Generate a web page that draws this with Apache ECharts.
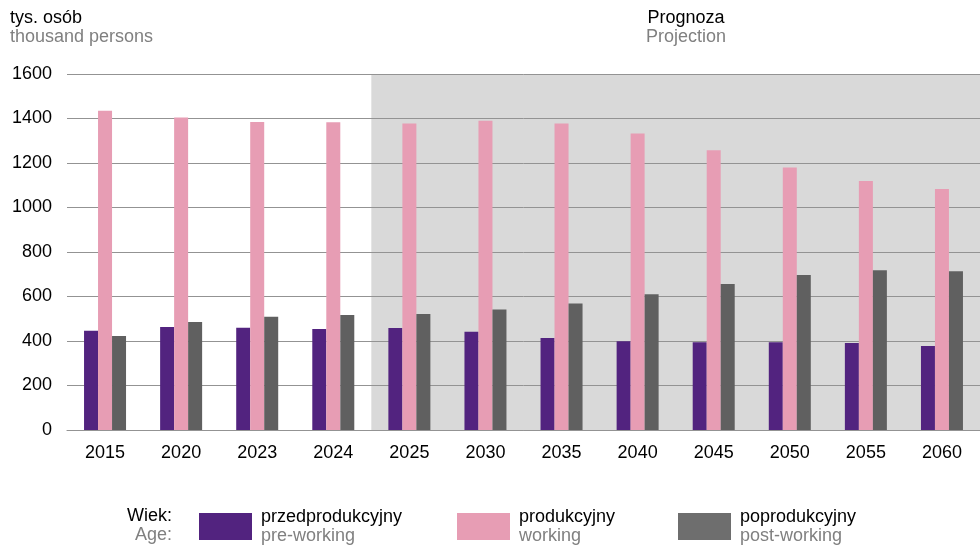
<!DOCTYPE html>
<html>
<head>
<meta charset="utf-8">
<script src="https://cdn.jsdelivr.net/npm/echarts@6/dist/echarts.min.js"></script>
<style>
  html, body { margin: 0; padding: 0; background: #fff; }
  #chart { width: 980px; height: 546px; }
</style>
</head>
<body>
<div id="chart"></div>
<script>
const years = ['2015', '2020', '2023', '2024', '2025', '2030', '2035', '2040', '2045', '2050', '2055', '2060']
const preWorking = [446, 463, 460, 454, 458, 442, 413, 399, 394, 394, 391, 377]
const working = [1435, 1405, 1384, 1383, 1377, 1390, 1378, 1333, 1257, 1180, 1119, 1083]
const postWorking = [422, 485, 509, 517, 521, 542, 569, 610, 656, 697, 718, 713]
const seriesNames = ['przedprodukcyjny', 'produkcyjny', 'poprodukcyjny']
const seriesNamesEn = ['pre-working', 'working', 'post-working']
const projectionStart = 4 // index of 2025

const font = 'Liberation Sans, Arial, sans-serif'
const colors = ['#52237f', '#e79db4', '#606060']
const legendColors = ['#52237f', '#e79db4', '#6e6e6e']
const legendLeft = [199, 457, 678]

const twoLine = (pl, en) => `{a|${pl}}\n{b|${en}}`
const rich = {
  a: { fontFamily: font, fontSize: 18, fontWeight: 'normal', color: '#000', lineHeight: 19 },
  b: { fontFamily: font, fontSize: 18, fontWeight: 'normal', color: '#808080', lineHeight: 19 }
}
const legendRich = {
  a: { fontFamily: font, fontSize: 18, color: '#000', lineHeight: 19, padding: [0, 0, 0, 4] },
  b: { fontFamily: font, fontSize: 18, color: '#808080', lineHeight: 19, padding: [0, 0, 0, 4] }
}

// background bands: white before the projection, grey from 2025 on
const bandColors = years.map((y, i) => (i < projectionStart ? 'rgba(255,255,255,0)' : '#d9d9d9'))

const myChart = echarts.init(document.getElementById('chart'))
const option = {
  animation: false,
  title: [
    { left: 5, top: 4, text: twoLine('tys. osób', 'thousand persons'), textStyle: { fontWeight: 'normal', rich } },
    { left: 681, top: 4, textAlign: 'center', text: twoLine('Prognoza', 'Projection'), textStyle: { fontWeight: 'normal', rich } },
    { left: 167, top: 502, textAlign: 'right', text: twoLine('Wiek:', 'Age:'), textStyle: { fontWeight: 'normal', rich } }
  ],
  legend: seriesNames.map((name, i) => ({
    left: legendLeft[i],
    top: 508,
    padding: 0,
    icon: 'rect',
    itemWidth: 53,
    itemHeight: 27,
    selectedMode: false,
    data: [{ name, itemStyle: { color: legendColors[i] } }],
    formatter: (n) => twoLine(n, seriesNamesEn[seriesNames.indexOf(n)]),
    textStyle: { rich: legendRich }
  })),
  grid: { left: 67, right: 0, top: 74, bottom: 116 },
  xAxis: {
    type: 'category',
    data: years,
    axisLine: { lineStyle: { color: '#8c8c8c', width: 1 } },
    axisTick: { show: false },
    axisLabel: { color: '#000', fontSize: 18, fontFamily: font, margin: 14 },
    splitArea: { show: true, areaStyle: { color: bandColors } }
  },
  yAxis: {
    type: 'value',
    z: 1,
    min: 0,
    max: 1600,
    interval: 200,
    axisLine: { show: false },
    axisTick: { show: false },
    axisLabel: { color: '#000', fontSize: 18, fontFamily: font, margin: 15, formatter: (v) => String(v) },
    splitLine: { lineStyle: { color: '#939393', width: 1 } }
  },
  series: [preWorking, working, postWorking].map((data, i) => ({
    name: seriesNames[i],
    type: 'bar',
    data,
    barWidth: 14,
    barGap: '0%',
    itemStyle: { color: colors[i] }
  }))
}
myChart.setOption(option)
</script>
</body>
</html>
